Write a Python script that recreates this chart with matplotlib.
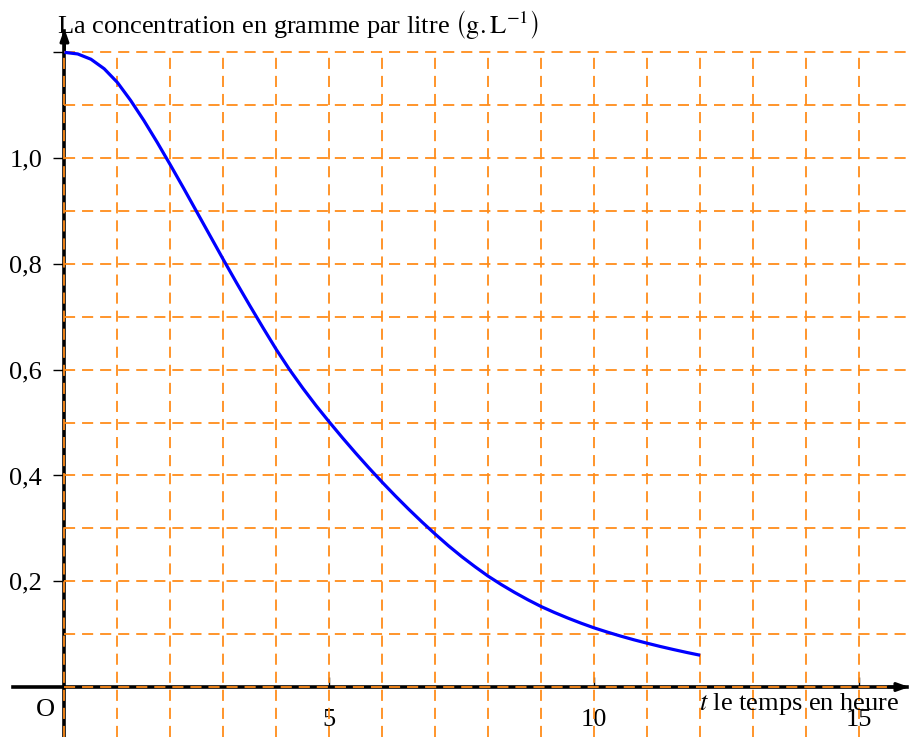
import numpy as np
import matplotlib
matplotlib.use("Agg")
from matplotlib import pyplot as plt

plt.rcParams["font.family"] = "Liberation Serif"
plt.rcParams["mathtext.fontset"] = "stix"
plt.rcParams["lines.scale_dashes"] = False

# concentration (g/L) every quarter hour
t_hours = np.arange(0, 12.01, 0.25)
conc = [1.200, 1.197, 1.187, 1.169, 1.143, 1.109, 1.071, 1.030, 0.987,
        0.943, 0.898, 0.853, 0.808, 0.764, 0.721, 0.679, 0.638, 0.600,
        0.565, 0.532, 0.501, 0.471, 0.442, 0.414, 0.387, 0.361, 0.336,
        0.312, 0.289, 0.267, 0.2465, 0.2275, 0.2095, 0.1935, 0.1787,
        0.1649, 0.1521, 0.1409, 0.1305, 0.1208, 0.1118, 0.1038, 0.0963,
        0.0893, 0.0828, 0.0766, 0.0708, 0.0653, 0.0601]

x_ticks = [5, 10, 15]
x_tick_labels = ["5", "10", "15"]
y_ticks = [0.2, 0.4, 0.6, 0.8, 1.0, 1.2]
y_tick_labels = ["0,2", "0,4", "0,6", "0,8", "1,0", ""]

grid_x = np.arange(0, 17, 1)
grid_y = np.arange(0, 1.25, 0.1)

xmin, xmax = -1.217, 16.0
ymin, ymax = -0.0945, 1.299

fig = plt.figure(figsize=(9.12, 7.37), dpi=100)
ax = fig.add_axes([0, 0, 1, 1])
ax.set_xlim(xmin, xmax)
ax.set_ylim(ymin, ymax)

orange = "#ff8c1a"
ax.vlines(grid_x, ymin, 1.2, colors=orange, linewidth=1.3,
          linestyles=(0, (8, 5)), zorder=2)
ax.hlines(grid_y, 0, xmax, colors=orange, linewidth=1.3,
          linestyles=(0, (8, 5)), zorder=2)

# axes through the origin
for side in ["top", "right"]:
    ax.spines[side].set_visible(False)
ax.spines["left"].set_position(("data", 0))
ax.spines["bottom"].set_position(("data", 0))
ax.spines["left"].set_bounds(ymin, 1.24)
ax.spines["bottom"].set_bounds(-0.98, 15.9)
for side in ["left", "bottom"]:
    ax.spines[side].set_linewidth(2.6)
    ax.spines[side].set_zorder(1)

ax.annotate("", xy=(0, 1.25), xytext=(0, 1.2),
            arrowprops=dict(arrowstyle="-|>,head_length=0.7,head_width=0.25",
                            color="black", lw=2.2))
ax.annotate("", xy=(xmax, 0), xytext=(15.5, 0),
            arrowprops=dict(arrowstyle="-|>,head_length=0.7,head_width=0.25",
                            color="black", lw=2.2))

ax.set_xticks(x_ticks)
ax.set_xticklabels(x_tick_labels)
ax.set_yticks(y_ticks)
ax.set_yticklabels(y_tick_labels)
ax.tick_params(axis="x", direction="in", length=7, width=1, pad=16,
               labelsize=19)
ax.tick_params(axis="y", direction="out", length=8, width=1, pad=8,
               labelsize=19)

ax.plot(t_hours, conc, color="#0000ff", linewidth=2.3, zorder=4,
        solid_capstyle="butt", solid_joinstyle="round")

ax.text(-0.14, 1.237, "La concentration en gramme par litre "
        r"$\left(\mathrm{g.L}^{-1}\right)$",
        fontsize=19, ha="left", va="baseline", zorder=5)
ax.text(11.98, -0.008, r"$t$ le temps en heure", fontsize=19,
        ha="left", va="top", zorder=5)
ax.text(-0.35, -0.043, "O", fontsize=19, ha="center", va="center")

fig.savefig("out.png", dpi=100)
